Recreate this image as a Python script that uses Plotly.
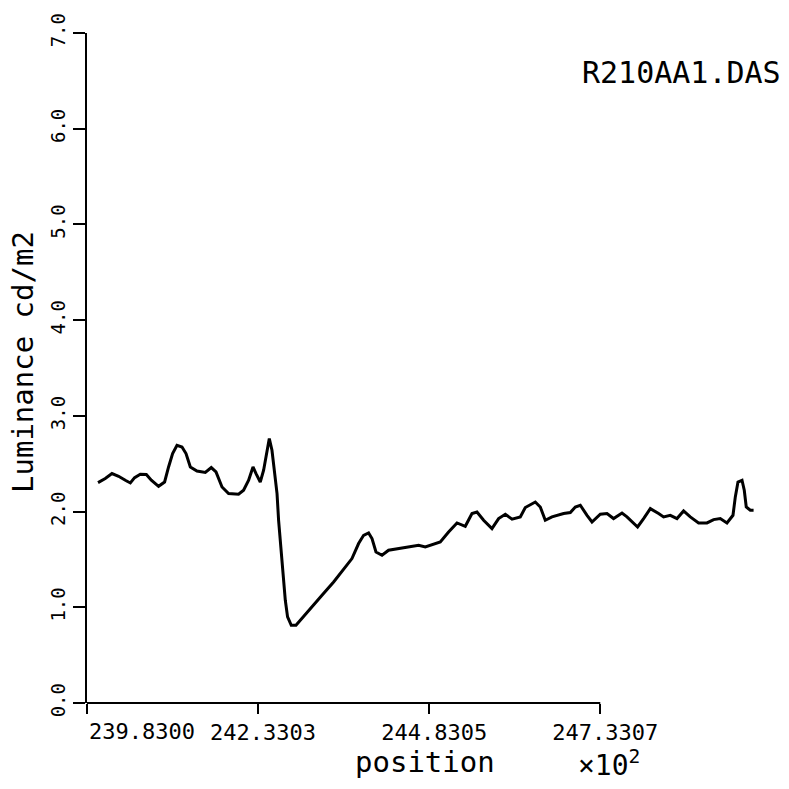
import plotly.graph_objects as go

# ---- data (position x10^2, luminance cd/m2) ----
position = [
    239.991, 240.097, 240.195, 240.292, 240.390, 240.463, 240.526, 240.609, 240.697, 240.770,
    240.876, 240.964, 241.022, 241.081, 241.145, 241.218, 241.277, 241.340, 241.437, 241.559,
    241.646, 241.715, 241.803, 241.899, 242.045, 242.118, 242.192, 242.256, 242.300, 242.362,
    242.411, 242.460, 242.494, 242.533, 242.571, 242.607, 242.630, 242.665, 242.694, 242.728,
    242.761, 242.815, 242.884, 242.972, 243.118, 243.264, 243.434, 243.580, 243.702, 243.799,
    243.872, 243.945, 243.995, 244.053, 244.141, 244.237, 244.433, 244.676, 244.774, 244.993,
    245.114, 245.237, 245.358, 245.456, 245.529, 245.626, 245.748, 245.845, 245.943, 246.041,
    246.162, 246.235, 246.381, 246.454, 246.527, 246.625, 246.795, 246.893, 246.966, 247.039,
    247.137, 247.210, 247.331, 247.429, 247.525, 247.648, 247.721, 247.794, 247.876, 247.964,
    248.062, 248.183, 248.256, 248.354, 248.452, 248.548, 248.646, 248.767, 248.890, 248.987,
    249.084, 249.182, 249.270, 249.304, 249.343, 249.402, 249.435, 249.464, 249.523, 249.571,
]
luminance = [
    2.303, 2.345, 2.397, 2.369, 2.327, 2.299, 2.355, 2.390, 2.387, 2.327,
    2.264, 2.309, 2.466, 2.606, 2.693, 2.675, 2.606, 2.466, 2.424, 2.408,
    2.460, 2.414, 2.257, 2.188, 2.181, 2.223, 2.327, 2.466, 2.397, 2.309,
    2.432, 2.641, 2.763, 2.641, 2.432, 2.188, 1.909, 1.630, 1.317, 1.073,
    0.899, 0.812, 0.812, 0.882, 1.003, 1.125, 1.264, 1.404, 1.509, 1.666,
    1.752, 1.776, 1.718, 1.578, 1.543, 1.596, 1.620, 1.648, 1.630, 1.682,
    1.787, 1.881, 1.846, 1.979, 1.996, 1.909, 1.822, 1.927, 1.972, 1.920,
    1.944, 2.042, 2.100, 2.048, 1.909, 1.944, 1.979, 1.990, 2.048, 2.066,
    1.961, 1.891, 1.972, 1.979, 1.927, 1.985, 1.944, 1.891, 1.839, 1.927,
    2.031, 1.979, 1.944, 1.961, 1.927, 2.006, 1.944, 1.881, 1.881, 1.916,
    1.927, 1.881, 1.961, 2.153, 2.309, 2.327, 2.223, 2.048, 2.014, 2.014,
]

x_tick_vals = [239.8300, 242.3303, 244.8305, 247.3307]
x_tick_text = ["239.8300", "242.3303", "244.8305", "247.3307"]
y_tick_vals = [0, 1, 2, 3, 4, 5, 6, 7]
y_tick_text = ["0.0", "1.0", "2.0", "3.0", "4.0", "5.0", "6.0", "7.0"]

x_title = "position"
x_scale_note = "×10<sup>2</sup>"
y_title = "Luminance cd/m2"
file_label = "R210AA1.DAS"

# ---- layout geometry ----
W = H = 789
ML, MR, MT, MB = 87, 19, 33, 86
PW, PH = W - ML - MR, H - MT - MB
x_range = [239.83, 249.811]
y_range = [0, 7]

MONO = "DejaVu Sans Mono"


def px(xp):
    return (xp - ML) / PW


def py(yp):
    return (H - MB - yp) / PH


fig = go.Figure(
    go.Scatter(
        x=position,
        y=luminance,
        mode="lines",
        line=dict(color="black", width=3),
        hoverinfo="skip",
    )
)

fig.update_layout(
    width=W,
    height=H,
    margin=dict(l=ML, r=MR, t=MT, b=MB),
    paper_bgcolor="white",
    plot_bgcolor="white",
    showlegend=False,
)

# first x label is drawn separately (it sits to the right of its tick)
fig.update_xaxes(
    range=x_range,
    tickvals=x_tick_vals,
    ticktext=[""] + x_tick_text[1:],
    ticks="outside",
    ticklen=10,
    tickwidth=2,
    tickcolor="black",
    ticklabelshift=5,
    showgrid=False,
    zeroline=False,
    showline=False,
    tickfont=dict(family=MONO, size=22, color="black"),
)

fig.update_yaxes(
    range=y_range,
    tickvals=y_tick_vals,
    ticktext=y_tick_text,
    tickangle=-90,
    ticks="outside",
    ticklen=12,
    tickwidth=2,
    tickcolor="black",
    showline=True,
    linecolor="black",
    linewidth=2,
    showgrid=False,
    zeroline=False,
    tickfont=dict(family=MONO, size=19, color="black"),
)

# x-axis baseline only spans the labelled part of the axis
fig.add_shape(
    type="line",
    xref="x",
    yref="paper",
    x0=x_tick_vals[0],
    x1=x_tick_vals[-1],
    y0=0,
    y1=0,
    line=dict(color="black", width=2),
)

fig.add_annotation(
    text=x_tick_text[0], xref="x", yref="paper", x=x_tick_vals[0], y=py(731),
    xanchor="left", yanchor="middle", xshift=0, showarrow=False,
    font=dict(family=MONO, size=22, color="black"),
)
fig.add_annotation(
    text=file_label, xref="paper", yref="paper", x=px(783), y=py(72),
    xanchor="right", yanchor="middle", showarrow=False,
    font=dict(family=MONO, size=30, color="black"),
)
fig.add_annotation(
    text=x_title, xref="paper", yref="paper", x=px(425), y=py(762),
    xanchor="center", yanchor="middle", showarrow=False,
    font=dict(family=MONO, size=29, color="black"),
)
fig.add_annotation(
    text=x_scale_note, xref="paper", yref="paper", x=px(609), y=py(763),
    xanchor="center", yanchor="middle", showarrow=False,
    font=dict(family=MONO, size=28, color="black"),
)
fig.add_annotation(
    text=y_title, xref="paper", yref="paper", x=px(23), y=py(362),
    xanchor="center", yanchor="middle", textangle=-90, showarrow=False,
    font=dict(family=MONO, size=29, color="black"),
)

fig.write_html("out.html")
